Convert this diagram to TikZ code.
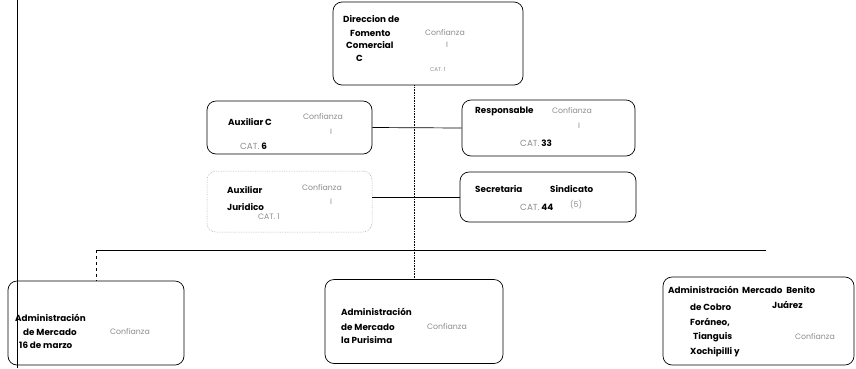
\documentclass[tikz,border=0pt]{standalone}
\usepackage{fontspec}
\setmainfont{Poppins}
\usepackage{tikz}
\usetikzlibrary{positioning}
\definecolor{faint}{gray}{0.55}
\tikzstyle{box}=[draw,rectangle,rounded corners=9pt,line width=0.7pt,inner sep=0pt]
\tikzstyle{ghostbox}=[box,draw=black!35,densely dotted,line width=0.5pt]
\tikzstyle{txt}=[anchor=west,inner sep=0pt,font=\fontsize{8.8}{9}\selectfont\bfseries]
\tikzstyle{conf}=[anchor=west,inner sep=0pt,font=\fontsize{7.8}{8}\selectfont,text=faint]
\tikzstyle{link}=[draw,line width=0.7pt]

\begin{document}
\begin{tikzpicture}[x=1pt,y=-1pt]
  \useasboundingbox (0,0) rectangle (856,368);
  % margin line on the left
  \coordinate (mtop) at (17,0);
  \coordinate (mbot) at (17,368);
  \draw[line width=0.5pt] (mtop) -- (mbot);

  % boxes
  \node[box,minimum width=190pt,minimum height=83pt] (dir)  at (428,43.5) {};
  \node[box,minimum width=165pt,minimum height=53pt] (aux)  at (289.5,127.5) {};
  \node[box,minimum width=173pt,minimum height=56pt] (resp) at (548.5,128) {};
  \node[ghostbox,minimum width=165pt,minimum height=61pt] (jur) at (289.5,201.5) {};
  \node[box,minimum width=176pt,minimum height=50pt] (sec)  at (548,197) {};
  \node[box,minimum width=176pt,minimum height=84pt] (adm1) at (96,323) {};
  \node[box,minimum width=178pt,minimum height=84pt] (adm2) at (414,321.5) {};
  \node[box,minimum width=191pt,minimum height=88pt] (adm3) at (758.5,321) {};

  % Direccion de Fomento Comercial C
  \node[txt] (d1) at (343,19) {Direccion de};
  \node[txt] (d2) at (350,33) {Fomento};
  \node[txt] (d3) at (346,45) {Comercial};
  \node[txt] (d4) at (356,58) {C};
  \node[conf] (d5) at (425,33) {Confianza};
  \node[conf] (d6) at (446,45) {I};
  \node[conf,font=\fontsize{5.5}{6}\selectfont] (d7) at (430,70) {CAT. 1};

  % Auxiliar C
  \node[txt] (a1) at (228,122) {Auxiliar C};
  \node[conf] (a2) at (303,117) {Confianza};
  \node[conf] (a3) at (330,132) {I};
  \node[txt] (a4) at (240,146) {\textcolor{faint}{\mdseries CAT.} 6};

  % Responsable
  \node[txt] (r1) at (475,111) {Responsable};
  \node[conf] (r2) at (552,111) {Confianza};
  \node[conf] (r3) at (578,126) {I};
  \node[txt] (r4) at (520,143) {\textcolor{faint}{\mdseries CAT.} 33};

  % Auxiliar Juridico
  \node[txt] (j1) at (227,190) {Auxiliar};
  \node[txt] (j2) at (227,207) {Juridico};
  \node[conf] (j3) at (302,188) {Confianza};
  \node[conf] (j4) at (330,202) {I};
  \node[conf] (j5) at (258,217) {CAT. 1};

  % Secretaria
  \node[txt] (s1) at (475,189) {Secretaria};
  \node[txt] (s2) at (550,189) {Sindicato};
  \node[txt] (s3) at (520,207) {\textcolor{faint}{\mdseries CAT.} 44};
  \node[conf] (s4) at (570,205) {(5)};

  % Administracion de Mercado 16 de marzo
  \node[txt] (m1) at (15,318) {Administración};
  \node[txt] (m2) at (23,332) {de Mercado};
  \node[txt] (m3) at (19,345) {16 de marzo};
  \node[conf] (m4) at (110,332) {Confianza};

  % Administracion de Mercado la Purisima
  \node[txt] (p1) at (341,312) {Administración};
  \node[txt] (p2) at (341,327) {de Mercado};
  \node[txt] (p3) at (341,340) {la Purisima};
  \node[conf] (p4) at (427,327) {Confianza};

  % Administracion de Cobro Foraneo
  \node[txt] (f1) at (668,290) {Administración};
  \node[txt] (f1b) at (742,290) {Mercado\hspace{4pt}Benito};
  \node[txt] (f2) at (690,307) {de Cobro};
  \node[txt] (f3) at (772,305) {Juárez};
  \node[txt] (f4) at (690,322) {Foráneo,};
  \node[txt] (f5) at (693,337) {Tianguis};
  \node[conf] (f6) at (795,337) {Confianza};
  \node[txt] (f7) at (690,352) {Xochipilli y};

  % connectors
  \coordinate (trunk) at (adm2.north |- dir.south);
  \draw[densely dotted,line width=0.6pt] (trunk) -- (adm2.north);
  \path[link] (aux.east) -- (resp.west);
  \path[link] (jur.east |- sec.west) -- (sec.west);
  \coordinate (busl) at (adm1.north |- 0,250);
  \coordinate (busr) at (766,250);
  \path[link] (busl) -- (busr);
  \draw[dashed,line width=0.5pt] (busl) -- (adm1.north);
\end{tikzpicture}
\end{document}
